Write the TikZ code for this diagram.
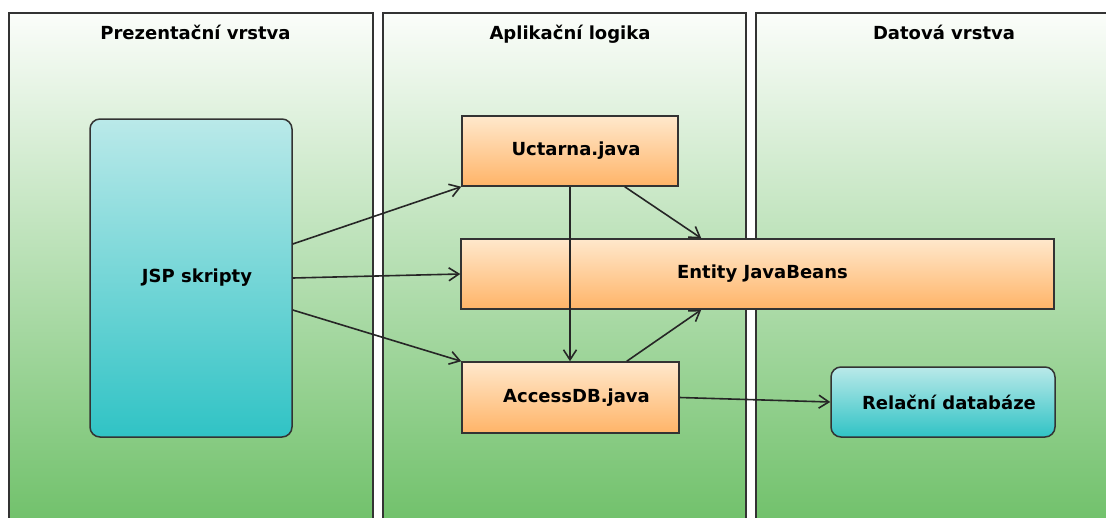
\documentclass[tikz,border=0pt]{standalone}
\usepackage{fontspec}
\setmainfont{DejaVu Sans}
\usetikzlibrary{arrows.meta,calc}
\definecolor{edge}{HTML}{333333}
\definecolor{pantop}{HTML}{FBFDFA}
\definecolor{panbot}{HTML}{6CBF66}
\definecolor{cyantop}{HTML}{BAE9E9}
\definecolor{cyanbot}{HTML}{30C3C5}
\definecolor{ortop}{HTML}{FFE8CC}
\definecolor{orbot}{HTML}{FFB468}
\tikzset{
  panel/.style={draw=edge, line width=1.5pt, top color=pantop, bottom color=panbot},
  title/.style={font=\fontsize{18}{21}\selectfont\bfseries, text=black, anchor=base, inner sep=0pt},
  orbox/.style={draw=edge, line width=1.5pt, top color=ortop, bottom color=orbot,
    font=\fontsize{18}{21}\selectfont\bfseries, inner sep=0pt},
  cybox/.style={draw=edge, line width=1.5pt, top color=cyantop, bottom color=cyanbot,
    rounded corners=10pt, font=\fontsize{18}{21}\selectfont\bfseries, inner sep=0pt},
  conn/.style={draw=black!85, line width=1.6pt, -{Straight Barb[length=10pt,width=13pt,line width=1.6pt]}}
}
\begin{document}
\begin{tikzpicture}[x=1pt,y=-1pt]
\clip (0,0) rectangle (1106,517);
\fill[white] (0,0) rectangle (1106,517);
% panels
\draw[panel] (9,13) rectangle (373,540);
\draw[panel] (383,13) rectangle (746,540);
\draw[panel] (756,13) rectangle (1119,540);
\node[title] (t1) at (195.5,39) {Prezentační vrstva};
\node[title] (t2) at (570,39) {Aplikační logika};
\node[title] (t3) at (944,39) {Datová vrstva};
% nodes
\node[cybox, minimum width=202pt, minimum height=318pt] (jsp) at (191,278) {\hspace*{12pt}JSP skripty};
\node[orbox, minimum width=216pt, minimum height=70pt] (uct) at (570,151) {\hspace*{12pt}Uctarna.java};
\node[orbox, minimum width=593pt, minimum height=70pt] (ent) at (757.5,274) {\hspace*{10pt}Entity JavaBeans};
\node[orbox, minimum width=217pt, minimum height=71pt] (acc) at (570.5,397.5) {\hspace*{12pt}AccessDB.java};
\node[cybox, minimum width=224pt, minimum height=70pt] (rel) at (943,402) {\hspace*{12pt}Relační databáze};
% connectors
\draw[conn] ($(jsp.east)+(0,-34)$) -- (uct.south west);
\draw[conn] (jsp.east) -- (ent.west);
\draw[conn] ($(jsp.east)+(0,32)$) -- (acc.north west);
\draw[conn] (uct.south) -- (uct.south |- acc.north);
\draw[conn] ($(uct.south east)+(-54,0)$) -- ($(ent.north west)+(241,0)$);
\draw[conn] ($(acc.north east)+(-53,0)$) -- ($(ent.south west)+(241,0)$);
\draw[conn] (acc.east) -- (rel.west);
\end{tikzpicture}
\end{document}
